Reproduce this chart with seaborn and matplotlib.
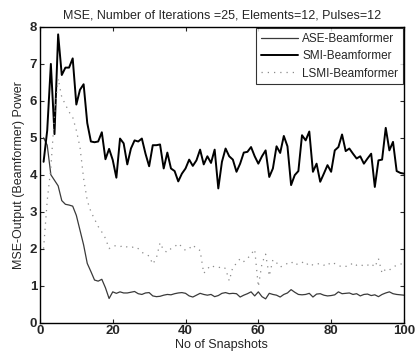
import numpy as np
import pandas as pd
import matplotlib
matplotlib.use("Agg")
import matplotlib.pyplot as plt
import seaborn as sns

snapshots = list(range(1, 101))

ase = [5.0, 4.8, 4.0, 3.85, 3.7, 3.3, 3.2, 3.18, 3.15, 2.9,
       2.5, 2.1, 1.6, 1.38, 1.15, 1.12, 1.17, 0.94, 0.65, 0.83,
       0.79, 0.83, 0.80, 0.80, 0.82, 0.84, 0.78, 0.76, 0.80, 0.81,
       0.72, 0.70, 0.71, 0.74, 0.76, 0.75, 0.78, 0.80, 0.81, 0.79,
       0.72, 0.69, 0.74, 0.79, 0.76, 0.74, 0.76, 0.70, 0.73, 0.79,
       0.81, 0.78, 0.79, 0.78, 0.69, 0.74, 0.78, 0.83, 0.72, 0.83,
       0.70, 0.64, 0.79, 0.76, 0.74, 0.69, 0.76, 0.80, 0.89, 0.82,
       0.76, 0.75, 0.76, 0.79, 0.69, 0.77, 0.78, 0.74, 0.72, 0.73,
       0.75, 0.83, 0.78, 0.79, 0.80, 0.76, 0.78, 0.72, 0.76, 0.77,
       0.73, 0.75, 0.70, 0.76, 0.80, 0.83, 0.78, 0.76, 0.75, 0.74]

smi = [4.35, 5.2, 7.0, 5.1, 7.8, 6.7, 6.9, 6.9, 7.15, 5.9,
       6.3, 6.45, 5.4, 4.9, 4.88, 4.9, 5.15, 4.42, 4.7, 4.4,
       3.92, 4.98, 4.85, 4.28, 4.71, 4.93, 4.9, 4.98, 4.57, 4.23,
       4.8, 4.8, 4.82, 4.17, 4.6, 4.17, 4.1, 3.82, 4.03, 4.17,
       4.41, 4.24, 4.39, 4.68, 4.28, 4.5, 4.32, 4.68, 3.63, 4.35,
       4.71, 4.5, 4.41, 4.08, 4.3, 4.6, 4.62, 4.75, 4.5, 4.3,
       4.5, 4.66, 3.94, 4.17, 4.77, 4.59, 5.05, 4.77, 3.72, 3.99,
       4.1, 5.07, 4.93, 5.17, 4.08, 4.3, 3.81, 4.03, 4.26, 4.08,
       4.66, 4.75, 5.09, 4.64, 4.71, 4.57, 4.44, 4.5, 4.3, 4.44,
       4.57, 3.67, 4.39, 4.41, 5.27, 4.66, 4.89, 4.1, 4.05, 4.03]

lsmi = [2.0, 3.3, 4.2, 5.6, 6.6, 6.1, 5.9, 5.7, 5.56, 5.2,
        4.75, 3.9, 3.3, 3.0, 2.8, 2.6, 2.45, 2.28, 2.0, 2.07,
        2.08, 2.05, 2.09, 2.04, 2.02, 2.06, 2.0, 1.9, 1.85, 1.8,
        1.58, 1.75, 2.16, 1.95, 1.9, 2.0, 2.05, 2.14, 2.05, 1.95,
        2.0, 2.1, 2.0, 1.95, 1.33, 1.45, 1.55, 1.5, 1.48, 1.52,
        1.46, 1.13, 1.5, 1.6, 1.73, 1.65, 1.73, 1.85, 1.98, 0.97,
        1.6, 1.85, 1.26, 1.7, 1.62, 1.5, 1.55, 1.6, 1.65, 1.55,
        1.6, 1.64, 1.55, 1.62, 1.55, 1.58, 1.6, 1.55, 1.62, 1.55,
        1.6, 1.55, 1.5, 1.52, 1.53, 1.62, 1.55, 1.58, 1.52, 1.55,
        1.6, 1.5, 1.73, 1.33, 1.45, 1.42, 1.5, 1.55, 1.58, 1.6]

x_ticks = [0, 20, 40, 60, 80, 100]
y_ticks = [0, 1, 2, 3, 4, 5, 6, 7, 8]

sns.set_theme(style="ticks")
plt.rcParams["font.family"] = ["Liberation Sans", "DejaVu Sans"]

fig = plt.figure(figsize=(4.16, 3.55), dpi=100)
ax = fig.add_axes([0.096, 0.0915, 0.875, 0.8325])

sns.lineplot(x=snapshots, y=ase, ax=ax, color="#3a3a3a", linewidth=0.9,
             label="ASE-Beamformer")
sns.lineplot(x=snapshots, y=smi, ax=ax, color="black", linewidth=1.4,
             label="SMI-Beamformer")
sns.lineplot(x=snapshots, y=lsmi, ax=ax, color="#8a8a8a", linewidth=0.9,
             linestyle=(0, (1, 4)), label="LSMI-Beamformer")

ax.set_xlim(0, 100)
ax.set_ylim(0, 8)
ax.set_xticks(x_ticks)
ax.set_yticks(y_ticks)
ax.tick_params(direction="in", top=True, right=True, length=3, width=0.8,
               labelsize=9.5, pad=2)
for lab in ax.get_xticklabels() + ax.get_yticklabels():
    lab.set_fontweight("bold")
for s in ax.spines.values():
    s.set_linewidth(1.0)
    s.set_color("black")

ax.set_title("MSE, Number of Iterations =25, Elements=12, Pulses=12",
             fontsize=9, pad=6)
ax.set_xlabel("No of Snapshots", fontsize=9, labelpad=1)
ax.set_ylabel("MSE-Output (Beamformer) Power", fontsize=9, labelpad=3)

leg = ax.legend(loc="upper right", fontsize=8.5, frameon=True, fancybox=False,
                edgecolor="black", borderaxespad=0.1, handlelength=3.2,
                labelspacing=0.45, borderpad=0.4, handletextpad=0.3)
leg.get_frame().set_linewidth(0.8)

fig.savefig("out.png", dpi=100, facecolor="white")
